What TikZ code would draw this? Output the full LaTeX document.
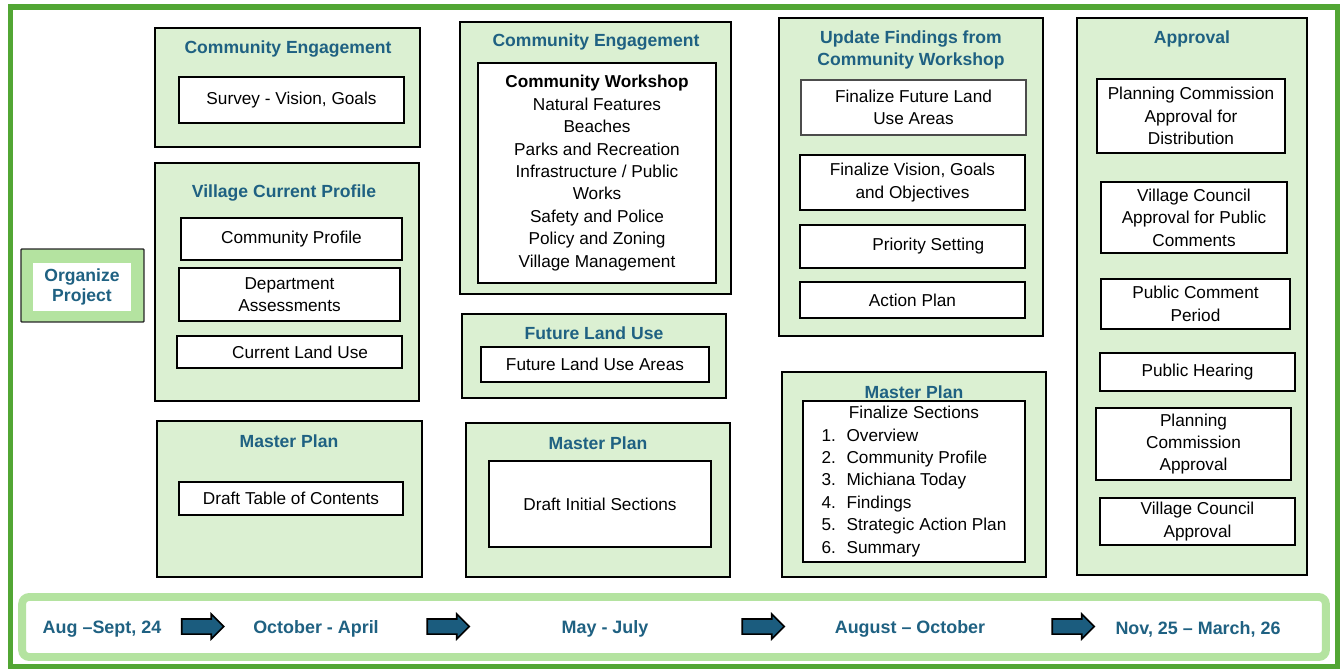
\documentclass[tikz,border=0pt]{standalone}
\usepackage{fontspec}
\setmainfont{Liberation Sans}
\usetikzlibrary{shapes.arrows}

\definecolor{planteal}{RGB}{31,97,130}
\definecolor{phasefill}{RGB}{219,240,210}
\definecolor{framegreen}{RGB}{82,166,52}
\definecolor{bandgreen}{RGB}{180,227,160}
\definecolor{arrowteal}{RGB}{27,92,126}

\tikzset{
  phase/.style={draw=black, line width=1.6pt, fill=phasefill, inner sep=0pt},
  task/.style={draw=black, line width=1.5pt, fill=white, inner sep=0pt, align=center,
    font=\fontsize{9.8}{12.75}\selectfont},
  phasetitle/.style={text=planteal, align=center, font=\bfseries\fontsize{10}{12.5}\selectfont},
  period/.style={text=planteal, font=\bfseries\fontsize{10.2}{12}\selectfont},
  timearrow/.style={single arrow, draw=black, line width=0.9pt, fill=arrowteal,
    minimum height=0.84cm, text height=0.27cm, text depth=0pt, single arrow head extend=0.1cm, inner sep=0pt}
}

\begin{document}
\begin{tikzpicture}[x=0.02cm, y=-0.02cm]
  \useasboundingbox (0,0) rectangle (1343,669);
  \draw[framegreen, line width=3.4pt] (10.5,7) rectangle (1337.5,666.5);

  % organize
  \node[draw=black!85, line width=0.8pt, fill=bandgreen, minimum width=2.46cm, minimum height=1.46cm,
        rounded corners=0.5pt] (organize) at (82.5,285.5) {};
  \node[fill=white, minimum width=1.96cm, minimum height=0.96cm, inner sep=0pt,
        phasetitle, font=\bfseries\fontsize{10}{11.5}\selectfont] (organizetxt) at (82,287) {Organize\\Project};

  % column 1
  \node[phase, minimum width=5.30cm, minimum height=2.38cm] (eng1) at (287.5,87.5) {};
  \node[phasetitle] (eng1t) at (288,49) {Community Engagement};
  \node[task, minimum width=4.50cm, minimum height=0.92cm] (survey) at (291.5,100) {Survey - Vision, Goals};

  \node[phase, minimum width=5.28cm, minimum height=4.76cm] (profile) at (287,282) {};
  \node[phasetitle] (profilet) at (284,193) {Village Current Profile};
  \node[task, minimum width=4.42cm, minimum height=0.84cm] (commprof) at (291.5,239) {Community Profile};
  \node[task, minimum width=4.42cm, minimum height=1.06cm] (dept) at (289.5,294.5) {Department\\Assessments};
  \node[task, minimum width=4.50cm, minimum height=0.64cm] (curland) at (289.5,352) {\hspace{12pt}Current Land Use};

  \node[phase, minimum width=5.30cm, minimum height=3.12cm] (plan1) at (289.5,499) {};
  \node[phasetitle] (plan1t) at (289,441) {Master Plan};
  \node[task, minimum width=4.48cm, minimum height=0.66cm] (toc) at (291,498.5) {Draft Table of Contents};

  % column 2
  \node[phase, minimum width=5.42cm, minimum height=5.44cm] (eng2) at (595.5,158) {};
  \node[phasetitle] (eng2t) at (596,42) {Community Engagement};
  \node[task, minimum width=4.76cm, minimum height=4.40cm] (workshop) at (597,173)
    {{\bfseries Community Workshop}\\Natural Features\\Beaches\\Parks and Recreation\\
     Infrastructure / Public\\Works\\Safety and Police\\Policy and Zoning\\Village Management};

  \node[phase, minimum width=5.28cm, minimum height=1.68cm] (landuse) at (594,356) {};
  \node[phasetitle] (landuset) at (594,333) {Future Land Use};
  \node[task, minimum width=4.56cm, minimum height=0.70cm] (futland) at (595,364.5) {Future Land Use Areas};

  \node[phase, minimum width=5.28cm, minimum height=3.08cm] (plan2) at (598,500) {};
  \node[phasetitle] (plan2t) at (598,443) {Master Plan};
  \node[task, minimum width=4.44cm, minimum height=1.72cm] (initial) at (600,504) {Draft Initial Sections};

  % column 3
  \node[phase, minimum width=5.28cm, minimum height=6.36cm] (update) at (911,177) {};
  \node[phasetitle, font=\bfseries\fontsize{10}{12.75}\selectfont] (updatet) at (911,50)
    {Update Findings from\\Community Workshop};
  \node[task, draw=black!70, line width=0.8pt, minimum width=4.50cm, minimum height=1.10cm] (finland)
    at (913.5,107.5) {Finalize Future Land\\Use Areas};
  \node[task, minimum width=4.50cm, minimum height=1.10cm] (vision) at (912.5,182.5)
    {Finalize Vision, Goals\\and Objectives};
  \node[task, minimum width=4.50cm, minimum height=0.86cm] (priority) at (912.5,246.5) {\hspace{18pt}Priority Setting};
  \node[task, minimum width=4.50cm, minimum height=0.72cm] (action) at (912.5,300) {Action Plan};

  \node[phase, minimum width=5.28cm, minimum height=4.10cm] (plan3) at (914,474.5) {};
  \node[phasetitle] (plan3t) at (914,392) {Master Plan};
  \node[task, minimum width=4.44cm, minimum height=3.22cm] (sections) at (914,481.5)
    {\begin{tabular}{@{}l@{\hspace{6pt}}l@{}}
       \multicolumn{2}{c}{Finalize Sections}\\
       1. & Overview\\
       2. & Community Profile\\
       3. & Michiana Today\\
       4. & Findings\\
       5. & Strategic Action Plan\\
       6. & Summary
     \end{tabular}};

  % column 4
  \node[phase, minimum width=4.60cm, minimum height=11.14cm] (approval) at (1192,296.5) {};
  \node[phasetitle] (approvalt) at (1192,39) {Approval};
  \node[task, minimum width=3.76cm, minimum height=1.48cm] (pcdist) at (1191,116)
    {Planning Commission\\Approval for\\Distribution};
  \node[task, minimum width=3.72cm, minimum height=1.42cm] (vcpub) at (1194,217.5)
    {Village Council\\Approval for Public\\Comments};
  \node[task, minimum width=3.78cm, minimum height=1.00cm] (comment) at (1195.5,304)
    {Public Comment\\Period};
  \node[task, minimum width=3.90cm, minimum height=0.76cm] (hearing) at (1197.5,372) {Public Hearing};
  \node[task, minimum width=3.90cm, minimum height=1.44cm] (pcappr) at (1193.5,444)
    {Planning\\Commission\\Approval};
  \node[task, minimum width=3.90cm, minimum height=0.94cm] (vcappr) at (1197.5,521.5)
    {Village Council\\Approval};

  % timeline
  \node[draw=bandgreen, line width=4.5pt, rounded corners=4pt, fill=white,
        minimum width=26.08cm, minimum height=1.20cm] (timeline) at (674,627) {};
  \node[period] (p1) at (102,629) {Aug –Sept, 24};
  \node[period] (p2) at (316,629) {October - April};
  \node[period] (p3) at (605,629) {May - July};
  \node[period] (p4) at (910,629) {August – October};
  \node[period] (p5) at (1198,629) {Nov, 25 – March, 26};
  \node[timearrow] (a1) at (199,626.5) {};
  \node[timearrow] (a2) at (444.5,626.5) {};
  \node[timearrow] (a3) at (759.5,626.5) {};
  \node[timearrow] (a4) at (1069.5,626.5) {};
\end{tikzpicture}
\end{document}
